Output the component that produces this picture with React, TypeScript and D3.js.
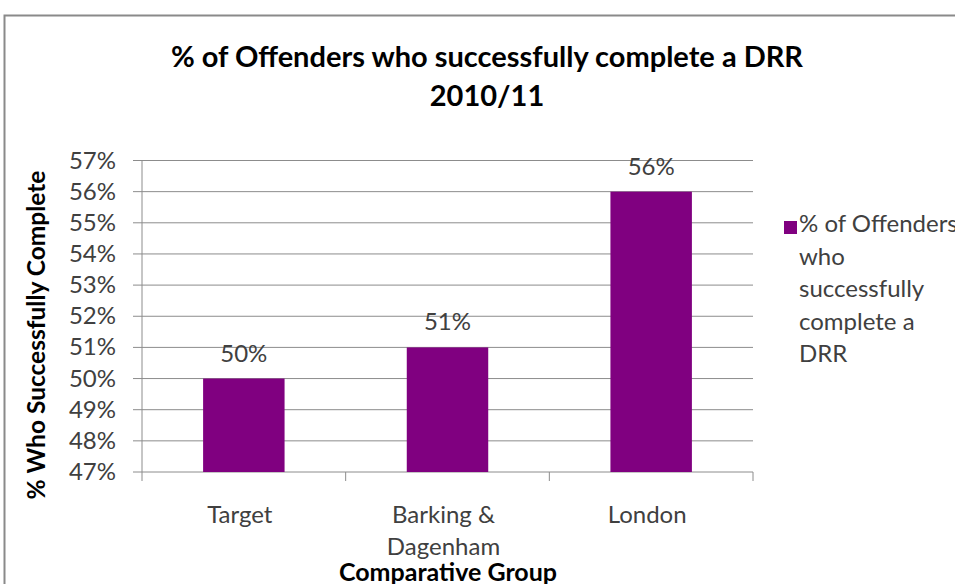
import React from "react";
import * as d3 from "d3";

const categories = ["Target", "Barking & Dagenham", "London"];
const categoryLines = [["Target"], ["Barking &", "Dagenham"], ["London"]];
const values = [0.5, 0.51, 0.56];
const yTicks = [0.47, 0.48, 0.49, 0.5, 0.51, 0.52, 0.53, 0.54, 0.55, 0.56, 0.57];
const titleLines = ["% of Offenders who successfully complete a DRR", "2010/11"];
const legendLines = ["% of Offenders", "who", "successfully", "complete a", "DRR"];
const yAxisTitle = "% Who Successfully Complete";
const xAxisTitle = "Comparative Group";

const W = 955;
const H = 584;
const FONT = "Lato, 'Open Sans', sans-serif";
const BAR = "#800080";
const GRID = "#8c8c8c";
const LABEL = "#404040";

export default function App() {
  const plot = { left: 142, right: 753, top: 160.5, bottom: 472 };
  const x = d3.scaleBand<string>().domain(categories).range([plot.left, plot.right]).paddingInner(0.6).paddingOuter(0.3);
  const xOuter = d3.scaleBand<string>().domain(categories).range([plot.left, plot.right]);
  const y = d3.scaleLinear().domain([0.47, 0.57]).range([plot.bottom, plot.top]);
  const fmt = d3.format(".0%");

  return (
    <svg width={W} height={H} style={{ position: "absolute", left: 0, top: 0, background: "#fff" }}>
      <rect x={4.5} y={15.5} width={W + 10} height={H} fill="#fff" stroke="#8a8a8a" strokeWidth={2} />
      {titleLines.map((t, i) => (
        <text key={i} x={487} y={67 + i * 39} textAnchor="middle" fontFamily={FONT} fontWeight="bold" fontSize={29} fill="#000">
          {t}
        </text>
      ))}
      {yTicks.map((t) => (
        <g key={t}>
          <line x1={plot.left - 9} x2={plot.right} y1={y(t)} y2={y(t)} stroke={GRID} strokeWidth={1} />
          <text x={116} y={y(t) + 8} textAnchor="end" fontFamily={FONT} fontSize={24} fill={LABEL}>
            {fmt(t)}
          </text>
        </g>
      ))}
      <line x1={plot.left} x2={plot.left} y1={plot.top} y2={plot.bottom} stroke={GRID} />
      {categories.map((c) => (
        <line key={c} x1={xOuter(c) as number} x2={xOuter(c) as number} y1={plot.bottom} y2={plot.bottom + 9} stroke={GRID} />
      ))}
      <line x1={plot.right} x2={plot.right} y1={plot.bottom} y2={plot.bottom + 9} stroke={GRID} />
      {categories.map((c, i) => (
        <g key={c}>
          <rect x={x(c)} y={y(values[i])} width={x.bandwidth()} height={plot.bottom - y(values[i])} fill={BAR} />
          <text x={(x(c) as number) + x.bandwidth() / 2} y={y(values[i]) - 17} textAnchor="middle" fontFamily={FONT} fontSize={24} fill={LABEL}>
            {fmt(values[i])}
          </text>
          {categoryLines[i].map((l, j) => (
            <text key={j} x={(x(c) as number) + x.bandwidth() / 2 - 4} y={523 + j * 32} textAnchor="middle" fontFamily={FONT} fontSize={24} fill={LABEL}>
              {l}
            </text>
          ))}
        </g>
      ))}
      <text x={448} y={581} textAnchor="middle" fontFamily={FONT} fontWeight="bold" fontSize={25} fill="#000">
        {xAxisTitle}
      </text>
      <text transform={`translate(45, 335) rotate(-90)`} textAnchor="middle" fontFamily={FONT} fontWeight="bold" fontSize={24.5} fill="#000">
        {yAxisTitle}
      </text>
      <rect x={784} y={221} width={13} height={13} fill={BAR} />
      {legendLines.map((l, i) => (
        <text key={i} x={799} y={232 + i * 32.5} fontFamily={FONT} fontSize={24} fill={LABEL}>
          {l}
        </text>
      ))}
    </svg>
  );
}
